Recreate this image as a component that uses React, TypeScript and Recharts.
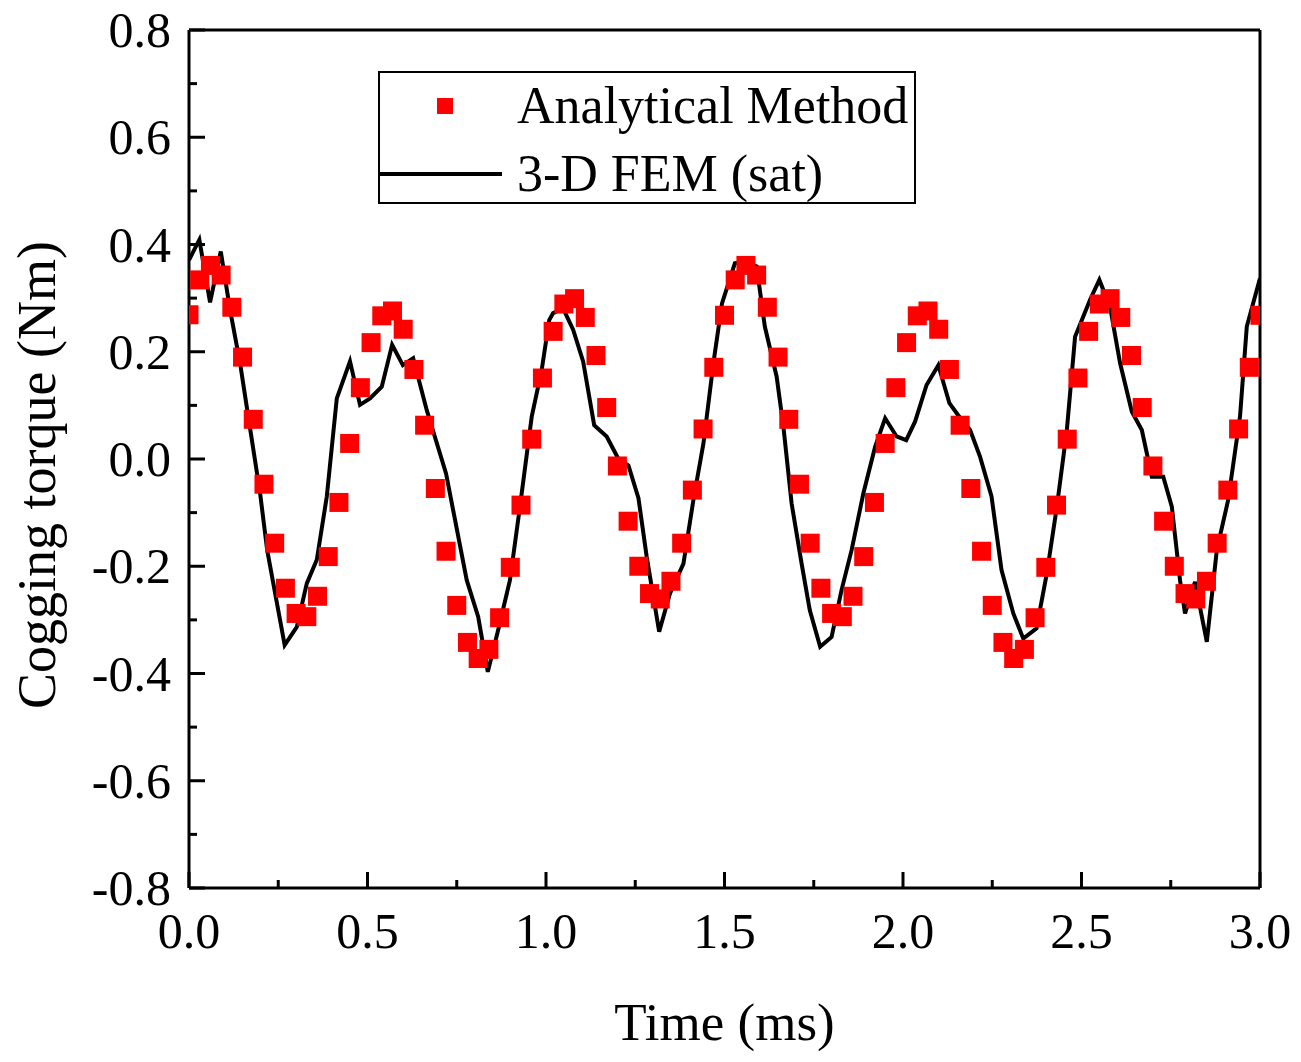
import {
  ComposedChart,
  Legend,
  Line,
  ReferenceLine,
  Scatter,
  XAxis,
  YAxis,
} from 'recharts'

const FONT = '"Liberation Serif", "Times New Roman", serif'

// analytical method, sampled every 0.03 ms
const analyticalTime = [
  0, 0.03, 0.06, 0.09, 0.12, 0.15, 0.18, 0.21, 0.24, 0.27,
  0.3, 0.33, 0.36, 0.39, 0.42, 0.45, 0.48, 0.51, 0.54, 0.57,
  0.6, 0.63, 0.66, 0.69, 0.72, 0.75, 0.78, 0.81, 0.84, 0.87,
  0.9, 0.93, 0.96, 0.99, 1.02, 1.05, 1.08, 1.11, 1.14, 1.17,
  1.2, 1.23, 1.26, 1.29, 1.32, 1.35, 1.38, 1.41, 1.44, 1.47,
  1.5, 1.53, 1.56, 1.59, 1.62, 1.65, 1.68, 1.71, 1.74, 1.77,
  1.8, 1.83, 1.86, 1.89, 1.92, 1.95, 1.98, 2.01, 2.04, 2.07,
  2.1, 2.13, 2.16, 2.19, 2.22, 2.25, 2.28, 2.31, 2.34, 2.37,
  2.4, 2.43, 2.46, 2.49, 2.52, 2.55, 2.58, 2.61, 2.64, 2.67,
  2.7, 2.73, 2.76, 2.79, 2.82, 2.85, 2.88, 2.91, 2.94, 2.97,
  3.0,
]
const analyticalTorque = [
  0.269, 0.334, 0.361, 0.343, 0.283, 0.19, 0.074, -0.047, -0.157, -0.241,
  -0.288, -0.294, -0.256, -0.182, -0.081, 0.029, 0.133, 0.217, 0.267, 0.276,
  0.242, 0.167, 0.063, -0.055, -0.172, -0.273, -0.342, -0.372, -0.355, -0.296,
  -0.202, -0.086, 0.037, 0.151, 0.238, 0.289, 0.299, 0.264, 0.193, 0.096,
  -0.013, -0.116, -0.2, -0.251, -0.261, -0.228, -0.157, -0.058, 0.056, 0.171,
  0.268, 0.334, 0.361, 0.343, 0.283, 0.19, 0.074, -0.047, -0.157, -0.241,
  -0.288, -0.294, -0.256, -0.182, -0.081, 0.029, 0.133, 0.217, 0.267, 0.276,
  0.242, 0.167, 0.063, -0.055, -0.172, -0.273, -0.342, -0.372, -0.355, -0.296,
  -0.202, -0.086, 0.037, 0.151, 0.238, 0.289, 0.299, 0.264, 0.193, 0.096,
  -0.013, -0.116, -0.2, -0.251, -0.261, -0.228, -0.157, -0.058, 0.056, 0.171,
  0.268,
]

// 3-D FEM (sat) polyline vertices
const femTime = [
  0, 0.029, 0.059, 0.089, 0.115, 0.143, 0.166, 0.199, 0.219, 0.268,
  0.302, 0.33, 0.358, 0.386, 0.414, 0.451, 0.479, 0.507, 0.54, 0.569,
  0.599, 0.628, 0.666, 0.72, 0.778, 0.81, 0.837, 0.866, 0.899, 0.927,
  0.96, 0.988, 1.009, 1.02, 1.048, 1.076, 1.104, 1.135, 1.17, 1.203,
  1.231, 1.259, 1.282, 1.317, 1.347, 1.385, 1.413, 1.441, 1.469, 1.493,
  1.529, 1.557, 1.59, 1.613, 1.646, 1.665, 1.688, 1.716, 1.739, 1.768,
  1.8, 1.828, 1.856, 1.889, 1.922, 1.95, 1.982, 2.009, 2.034, 2.066,
  2.099, 2.13, 2.154, 2.188, 2.216, 2.248, 2.276, 2.309, 2.337, 2.374,
  2.403, 2.431, 2.459, 2.482, 2.524, 2.55, 2.58, 2.608, 2.641, 2.669,
  2.697, 2.729, 2.753, 2.776, 2.79, 2.818, 2.851, 2.879, 2.911, 2.944,
  2.963, 3.0,
]
const femTorque = [
  0.371, 0.409, 0.292, 0.387, 0.278, 0.179, 0.079, -0.063, -0.17, -0.347,
  -0.313, -0.232, -0.188, -0.07, 0.113, 0.182, 0.101, 0.113, 0.135, 0.213,
  0.175, 0.188, 0.091, -0.027, -0.226, -0.294, -0.397, -0.319, -0.226, -0.089,
  0.079, 0.166, 0.259, 0.272, 0.281, 0.241, 0.182, 0.063, 0.042, 0.0,
  -0.012, -0.073, -0.182, -0.322, -0.251, -0.195, -0.076, 0.029, 0.179, 0.29,
  0.365, 0.368, 0.359, 0.247, 0.154, 0.06, -0.083, -0.195, -0.282, -0.35,
  -0.332, -0.244, -0.17, -0.064, 0.023, 0.076, 0.042, 0.035, 0.07, 0.138,
  0.175, 0.104, 0.082, 0.054, 0.004, -0.07, -0.207, -0.288, -0.335, -0.316,
  -0.213, -0.089, 0.054, 0.228, 0.297, 0.334, 0.284, 0.179, 0.088, 0.054,
  -0.033, -0.033, -0.089, -0.226, -0.288, -0.229, -0.341, -0.17, -0.076, 0.079,
  0.247, 0.337,
]

const xTicks = [0, 0.25, 0.5, 0.75, 1, 1.25, 1.5, 1.75, 2, 2.25, 2.5, 2.75, 3]
const yTicks = [
  -0.8, -0.7, -0.6, -0.5, -0.4, -0.3, -0.2, -0.1, 0,
  0.1, 0.2, 0.3, 0.4, 0.5, 0.6, 0.7, 0.8,
]

const analyticalData = analyticalTime.map((t, i) => ({ t, v: analyticalTorque[i] }))
const femData = femTime.map((t, i) => ({ t, v: femTorque[i] }))

const Square = (props: any) => {
  const { cx, cy } = props
  if (cx == null || cy == null) return null
  return <rect x={cx - 9.5} y={cy - 9.5} width={19} height={19} fill="#ff0000" />
}

const XTick = (props: any) => {
  const { x, y, payload } = props
  const v = payload.value
  const major = Math.abs(v * 2 - Math.round(v * 2)) < 1e-6
  return (
    <g>
      <line x1={x} x2={x} y1={y} y2={y - (major ? 16 : 8)} stroke="#000" strokeWidth={3} />
      {major && (
        <text x={x} y={y + 43} textAnchor="middle" dominantBaseline="central" fontFamily={FONT} fontSize={50} fill="#000">
          {v.toFixed(1)}
        </text>
      )}
    </g>
  )
}

const YTick = (props: any) => {
  const { x, y, payload } = props
  const v = payload.value
  const major = Math.round(v * 10) % 2 === 0
  return (
    <g>
      <line x1={x} x2={x + (major ? 16 : 8)} y1={y} y2={y} stroke="#000" strokeWidth={3} />
      {major && (
        <text x={x - 18} y={y} textAnchor="end" dominantBaseline="central" fontFamily={FONT} fontSize={50} fill="#000">
          {v.toFixed(1)}
        </text>
      )}
    </g>
  )
}

const renderXLabel = (props: any) => {
  const { x, y, width } = props.viewBox
  return (
    <text x={x + width / 2} y={y + 134} textAnchor="middle" dominantBaseline="central" fontFamily={FONT} fontSize={53} fill="#000">
      Time (ms)
    </text>
  )
}

const renderYLabel = (props: any) => {
  const { x, y, height } = props.viewBox
  const cx = x - 72
  const cy = y + height / 2 + 16
  return (
    <text x={cx} y={cy} transform={`rotate(-90 ${cx} ${cy})`} textAnchor="middle" dominantBaseline="central" fontFamily={FONT} fontSize={54} fill="#000">
      Cogging torque (Nm)
    </text>
  )
}

const LegendBox = () => (
  <div
    style={{
      boxSizing: 'border-box',
      width: 538,
      height: 133,
      border: '2px solid #000',
      background: '#fff',
      position: 'relative',
      fontFamily: FONT,
      fontSize: 52,
      color: '#000',
    }}
  >
    <div style={{ position: 'absolute', left: 57, top: 25, width: 16, height: 16, background: '#ff0000' }} />
    <div style={{ position: 'absolute', left: 137, top: 33, transform: 'translateY(-50%)', whiteSpace: 'nowrap', lineHeight: 1 }}>
      Analytical Method
    </div>
    <div style={{ position: 'absolute', left: 0, top: 99, width: 122, height: 4, background: '#000' }} />
    <div style={{ position: 'absolute', left: 137, top: 101, transform: 'translateY(-50%)', whiteSpace: 'nowrap', lineHeight: 1 }}>
      3-D FEM (sat)
    </div>
  </div>
)

export default function App() {
  return (
    <div style={{ position: 'absolute', left: 0, top: 0, width: 1301, height: 1062, background: '#fff' }}>
      <ComposedChart width={1301} height={1062} margin={{ top: 30, right: 41, bottom: 114, left: 109 }}>
        <XAxis
          dataKey="t"
          type="number"
          domain={[0, 3]}
          ticks={xTicks}
          interval={0}
          allowDataOverflow
          height={60}
          tickLine={false}
          tickSize={0}
          tickMargin={0}
          axisLine={{ stroke: '#000', strokeWidth: 3 }}
          tick={<XTick />}
          label={renderXLabel}
        />
        <YAxis
          dataKey="v"
          type="number"
          domain={[-0.8, 0.8]}
          ticks={yTicks}
          interval={0}
          allowDataOverflow
          width={80}
          tickLine={false}
          tickSize={0}
          tickMargin={0}
          axisLine={{ stroke: '#000', strokeWidth: 3 }}
          tick={<YTick />}
          label={renderYLabel}
        />
        <ReferenceLine y={0.8} stroke="#000" strokeWidth={3} />
        <ReferenceLine x={3} stroke="#000" strokeWidth={3} />
        <Legend
          verticalAlign="middle"
          layout="horizontal"
          content={() => <LegendBox />}
          wrapperStyle={{ left: 378, top: 71, width: 538, height: 133 }}
        />
        <Line
          data={femData}
          dataKey="v"
          name="3-D FEM (sat)"
          type="linear"
          stroke="#000"
          strokeWidth={4}
          dot={false}
          isAnimationActive={false}
        />
        <Scatter
          data={analyticalData}
          dataKey="v"
          name="Analytical Method"
          shape={Square}
          isAnimationActive={false}
        />
      </ComposedChart>
    </div>
  )
}
